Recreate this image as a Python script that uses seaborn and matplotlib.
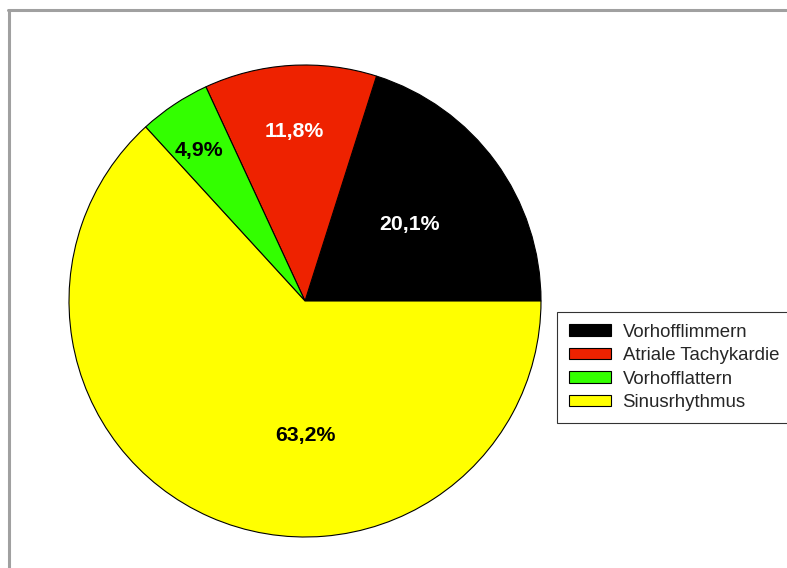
import numpy as np
import matplotlib
matplotlib.use("Agg")
import matplotlib.pyplot as plt
import seaborn as sns
from matplotlib.patches import Patch
from matplotlib.lines import Line2D

# Rhythm distribution (%)
categories = ["Vorhofflimmern", "Atriale Tachykardie", "Vorhofflattern", "Sinusrhythmus"]
shares = [20.1, 11.8, 4.9, 63.2]
slice_colors = ["#000000", "#EE2200", "#33FF00", "#FFFF00"]
label_colors = ["white", "white", "black", "black"]

sns.set_theme(style="white")
plt.rcParams["font.family"] = ["Liberation Sans", "DejaVu Sans"]

fig = plt.figure(figsize=(7.87, 5.68), dpi=100)
W, H = 787, 568
cx, cy, r = 305, 301, 236
ax = fig.add_axes([(cx - r) / W, (H - cy - r) / H, 2 * r / W, 2 * r / H])

wedges, _ = ax.pie(shares, colors=slice_colors, startangle=0, counterclock=True,
                   wedgeprops=dict(edgecolor="black", linewidth=0.8))
ax.set_xlim(-1, 1)
ax.set_ylim(-1, 1)
ax.set_aspect("equal")
ax.axis("off")

# label placement: radial distance per slice; the large slice label sits straight below centre
radial = [0.55, 0.72, 0.78, 0.57]
angles = []
start = 0.0
for v in shares:
    angles.append(start + v * 3.6 / 2)
    start += v * 3.6
angles[2] += 1.5
angles[3] = 270.0
for v, a, rad, col in zip(shares, angles, radial, label_colors):
    t = np.deg2rad(a)
    ax.text(rad * np.cos(t), rad * np.sin(t), f"{v:.1f}%".replace(".", ","),
            ha="center", va="center", fontsize=15.3, fontweight="bold", color=col)

handles = [Patch(facecolor=c, edgecolor="black", linewidth=0.8) for c in slice_colors]
leg = fig.legend(handles, categories, loc="upper left",
                 bbox_to_anchor=(557 / W, 1 - 312 / H), bbox_transform=fig.transFigure,
                 fontsize=13.4, frameon=True, fancybox=False, handlelength=2.3,
                 handleheight=0.6, handletextpad=0.6, labelspacing=0.35,
                 borderpad=0.62, borderaxespad=0)
leg.get_frame().set_edgecolor("black")
leg.get_frame().set_linewidth(0.8)

# outer frame (open to the right and bottom)
fig.add_artist(Line2D([8.5 / W, 8.5 / W], [0, 1 - 10 / H], color="#A0A0A0", linewidth=2.2,
                      transform=fig.transFigure))
fig.add_artist(Line2D([7.5 / W, 786 / W], [1 - 10 / H, 1 - 10 / H], color="#A0A0A0", linewidth=2.2,
                      transform=fig.transFigure))

fig.savefig("out.png", dpi=100, facecolor="white")
